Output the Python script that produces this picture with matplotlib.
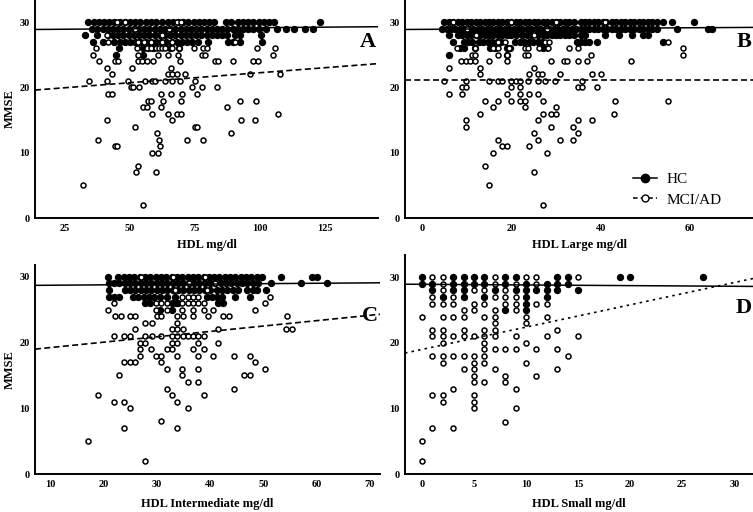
import numpy as np
import matplotlib as mpl
mpl.use("Agg")
import matplotlib.pyplot as plt
from matplotlib.lines import Line2D

# ---- data: {MMSE score: [x values]} ----
A_hc = {
    30: [34, 36, 38, 40, 42, 44, 46, 48, 50, 52, 54, 56, 58, 60, 62.5, 64.5, 66.5, 68.5, 70.5,
         72.5, 74.5, 76.5, 78.5, 80.5, 82.5, 87, 89, 91.5, 93.5, 95.5, 97.5, 99.5, 101.5, 103.5,
         105.5, 123],
    29: [35.5, 37.5, 39.5, 41.5, 43.5, 45.5, 47.5, 49.5, 51.5, 53.5, 55.5, 57.5, 59.5, 61.5, 63.5,
         65.5, 67.5, 69.5, 71.5, 73.5, 75.5, 77.5, 79.5, 81.5, 83.5, 85.5, 87.5, 89.5, 91.5, 93.5,
         95.5, 97.5, 99.5, 102.5, 106.5, 110, 113, 117.5, 120.5],
    28: [32.7, 37.5, 41.5, 43.5, 45.5, 47.5, 49.5, 51.5, 53.5, 55.5, 57.5, 59.5, 61.5, 63.5, 65.5,
         67.5, 69.5, 71.5, 73.5, 75.5, 77.5, 79.5, 81.5, 83.5, 85.5, 87.5, 90.5, 92.5, 100.4],
    27: [35.8, 39.6, 44, 46, 48, 50, 52, 54, 56, 58, 60, 62, 64, 66, 68, 70, 72, 74, 76, 80,
         87.7, 89.5, 92.3, 100.8],
    26: [45.8, 55, 57, 59, 65.4, 69],
    25: [44.6, 55],
}
A_mci = {
    30: [45, 48, 68, 69.5],
    29: [52, 65],
    28: [41.2, 62.5],
    27: [41.5, 53, 55.5, 58, 62.5, 66, 90.5],
    26: [36.9, 52.6, 56.5, 58, 60, 61, 62.5, 63.6, 66.3, 68.8, 74.6, 78, 79.5, 98.7, 105.7],
    25: [35.6, 53.2, 60.9, 64.7, 68.6, 77.6, 78.8, 105],
    24: [37.9, 44.2, 45.5, 53.2, 54.5, 56.4, 58.7, 69.2, 82.7, 84, 89.7, 97.4, 99.4],
    23: [41.3, 50.6, 65.6],
    22: [42.9, 64.7, 66, 67.9, 71.2, 96.2, 107.7],
    21: [34.4, 41.3, 49.4, 55.8, 58.3, 59.6, 63.5, 66, 69.2, 75],
    20: [50.3, 51, 53.6, 73.7, 77.6, 83.6],
    19: [41.7, 43.1, 61.9, 65.6, 70.1, 75.9],
    18: [56.8, 58.1, 62.8, 69.6, 92.3, 98.5],
    17: [55.1, 56.4, 61.9, 87.4],
    16: [58.3, 64.5, 68.2, 69.6, 107],
    15: [41, 66, 92.6, 98.1],
    14: [51.9, 75, 75.6],
    13: [60.5, 88.8],
    12: [37.8, 61.3, 71.8, 78],
    11: [44.4, 45.1, 61.5],
    10: [58.6, 60.6],
    8: [53.2],
    7: [52.2, 59.9],
    5: [32.1],
    2: [54.9],
}

B_hc = {
    30: [5, 6, 7, 8, 9, 10, 11, 12, 13, 14, 15, 16, 17, 18, 19, 20, 21, 22, 23, 24, 25, 26, 27,
         28, 29, 30, 31, 32, 33, 34, 35.5, 36.5, 37.5, 38.5, 39.5, 40.5, 41.3, 42.5, 43.5, 44.5,
         45.5, 46.5, 47.5, 48.5, 49.5, 50.5, 51.5, 52.5, 54, 56, 61],
    29: [4.5, 5.5, 6.5, 7.5, 8.5, 9.5, 10.5, 11.5, 12.5, 13.5, 14.5, 15.5, 16.5, 17.5, 18.5, 19.5,
         20.5, 21.5, 22.5, 23.5, 24.5, 25.5, 26.5, 27.5, 28.5, 29.5, 30.5, 31.5, 32.5, 33.5, 34.5,
         35.5, 36.5, 37.5, 38.5, 39.5, 40.5, 41.5, 42.5, 43.5, 44.5, 45.5, 46.5, 47.5, 48.5, 49.5,
         50.5, 51.5, 52.5, 57, 64, 65],
    28: [6, 8, 9, 10, 11, 12, 13, 14, 15, 16, 17, 18, 19, 20, 21, 22.5, 23.5, 24.5, 26, 27, 28,
         29, 30, 31, 32, 33, 34, 35.5, 36.5, 41, 44, 47, 49.5, 50.5],
    27: [7, 9.3, 10.3, 11.2, 12.7, 13.7, 14.7, 15.7, 16.7, 17.7, 20.9, 21.9, 22.9, 23.9, 24.9,
         25.9, 26.8, 34.6, 35.6, 36.5, 37.3, 39.1, 54],
    26: [8.6, 9.3, 11.9, 15.3, 16.4, 19, 19.7, 27.2],
    25: [6, 19],
}
B_mci = {
    30: [7, 20, 30, 41],
    29: [10, 28],
    28: [12, 25],
    27: [17, 18.5, 27.5, 28.5, 55],
    26: [7.8, 11.9, 16, 17.1, 19.4, 23.1, 23.8, 26.1, 27.9, 28.3, 33, 35, 58.5],
    25: [11.2, 11.9, 17.1, 19, 23.1, 23.8, 37.9, 58.5],
    24: [8.8, 9.8, 10.8, 11.9, 15.1, 19, 28.9, 31.9, 32.4, 35, 36.9, 46.9],
    23: [6.1, 13, 25],
    22: [13, 24, 25.9, 26.8, 30.9, 38, 40.1],
    21: [5, 9.8, 15.1, 17, 17.9, 20, 21, 22, 23.7, 25.9, 27.6, 29.8, 35.9],
    20: [8.9, 9.8, 20, 22, 34.9, 35.9, 39.1],
    19: [6.1, 8.9, 19, 22, 24, 25.9],
    18: [14, 17, 20, 22, 23, 27, 43.1, 55],
    17: [16, 23, 30],
    16: [13, 27, 28.9, 30, 42.9],
    15: [9.9, 25.9, 35, 38],
    14: [9.9, 28.9, 33.9],
    13: [25, 35],
    12: [17, 25.9, 30.9, 33.9],
    11: [17.9, 19, 24],
    10: [16, 27.9],
    8: [14],
    7: [25],
    5: [15.1],
    2: [27],
}

C_hc = {
    30: [20.9, 22.8, 23.8, 24.8, 25.8, 26.8, 27.8, 28.8, 29.8, 30.8, 31.8, 32.8, 33.8, 34.8, 35.8,
         36.8, 37.8, 38.8, 39.8, 40.8, 41.8, 42.8, 43.8, 44.8, 45.8, 46.8, 47.8, 48.8, 49.8, 53.4,
         59.1, 60],
    29: [21, 22, 23, 24, 25, 26, 27, 28, 29, 30, 31, 32, 33, 34, 35, 36, 37, 38, 39, 40, 41, 42,
         43, 44, 45, 46, 47, 48, 49, 51.5, 57, 62],
    28: [21, 24, 25, 26, 27, 28, 29, 30, 31, 32, 33, 34, 35, 36, 37, 38, 39, 40, 41.3, 42.3, 43.3,
         44.3, 45.3, 47, 48, 48.8, 50.5],
    27: [21, 22, 23, 25.6, 26.6, 27.6, 28.6, 29.6, 30.6, 32, 33.4, 39.4, 40.4, 41.4, 42.2, 44.7,
         47.5],
    26: [27.8, 28.8, 32.8, 33.6, 34.1, 41.6, 42.5],
    25: [30.6, 32.8],
}
C_mci = {
    30: [27, 33, 39],
    29: [36, 41],
    28: [33.5, 39.5],
    27: [34.7, 35.8, 36.9, 37.8, 51.3],
    26: [22.1, 29.9, 30.9, 31.9, 34.7, 35.8, 36.9, 37.8, 38.9, 50.3],
    25: [20.9, 29.9, 31.9, 34.7, 36.8, 38.8, 40.6, 48.4],
    24: [22.2, 23.4, 25, 25.9, 30, 30.9, 33.8, 34.9, 36.8, 39.7, 42.5, 43.6, 54.4],
    23: [27.9, 29.1, 33.8],
    22: [25.9, 32.8, 33.8, 34.9, 41.6, 54.2, 55.4],
    21: [22.1, 23.8, 25, 27.9, 29.1, 30.9, 32.8, 33.8, 34.9, 35.8, 36.8, 37.8, 38.8],
    20: [26.9, 27.9, 32.8, 33.8, 37.8, 41.6],
    19: [26.9, 28.9, 31.9, 32.8, 36.8, 38.8],
    18: [26.9, 29.8, 30.9, 33.8, 37.8, 40.6, 44.6, 47.5],
    17: [23.9, 25, 25.9, 30.9, 48.4],
    16: [31.9, 34.7, 37.8, 50.3],
    15: [22.9, 34.7, 46.4, 47.5],
    14: [35.8, 37.8],
    13: [31.9, 44.6],
    12: [19.1, 32.8, 38.8],
    11: [22.1, 23.9, 33.8],
    10: [25, 35.8],
    8: [30.9],
    7: [23.9, 33.8],
    5: [17.2],
    2: [27.9],
}

D_hc = {
    30: [0, 3, 4, 5, 6, 8, 9, 13, 14, 19, 20, 27],
    29: [0, 1, 3, 4, 5, 6, 8, 10, 12, 13, 14],
    28: [1, 3, 4, 7, 9, 10, 11, 12, 13, 15],
    27: [2, 4, 6, 10, 12],
    26: [10],
    25: [8, 10],
}
D_mci = {
    30: [1, 2, 7, 10, 11, 15],
    29: [2, 7, 9, 11],
    28: [2, 5, 6, 8],
    27: [1, 3, 7, 8, 9],
    26: [1, 2, 3, 5, 6, 8, 9, 11, 12],
    25: [4, 5, 7, 9],
    24: [0, 2, 3, 4, 6, 7, 10, 12],
    23: [7, 10],
    22: [1, 2, 4, 6, 7, 13],
    21: [1, 2, 3, 4, 5, 6, 7, 9, 12, 15],
    20: [2, 6, 10],
    19: [6, 7, 8, 9, 11, 13],
    18: [1, 2, 3, 4, 5, 6, 14],
    17: [2, 5, 6, 10],
    16: [4, 5, 7, 13],
    15: [5, 8, 11],
    14: [5, 6, 8],
    13: [3, 9],
    12: [1, 2, 5],
    11: [2, 5],
    10: [5, 9],
    8: [8],
    7: [1, 3],
    5: [0],
    2: [0],
}

# regression lines: (intercept, slope)
A_fit_hc, A_fit_mci = (28.84, 0.0032), (19.19, 0.0307)
B_fit_hc, B_fit_mci = (28.9, 0.0041), (21.1, 0.0)
C_fit_hc, C_fit_mci = (28.66, 0.006), (18.41, 0.082)
D_fit_hc, D_fit_mci = (28.93, -0.01), (19.0, 0.34)

x_labels = ["HDL mg/dl", "HDL Large mg/dl", "HDL Intermediate mg/dl", "HDL Small mg/dl"]
x_ticks = [[25, 50, 75, 100, 125], [0, 20, 40, 60], [10, 20, 30, 40, 50, 60, 70],
           [0, 5, 10, 15, 20, 25, 30]]
letters = ["A", "B", "C", "D"]

mpl.rcParams['font.family'] = 'serif'
mpl.rcParams['font.serif'] = ['Liberation Serif', 'DejaVu Serif']
mpl.rcParams['font.weight'] = 'bold'


def flatten(rows):
    xs, ys = [], []
    for y, row in rows.items():
        xs += list(row)
        ys += [y] * len(row)
    return np.array(xs, float), np.array(ys, float)


fig = plt.figure(figsize=(7.53, 5.12), dpi=100)

W, H = 753.0, 512.0
panels = [
    # left, right, bottom, top (pixels), xlim, ylim top
    (35, 378, 218, 0, (13.46, 145.4), 33.4, A_hc, A_mci, A_fit_hc, A_fit_mci, 'dash', 26.9),
    (405, 753, 218, 0, (-3.8, 74.1), 33.4, B_hc, B_mci, B_fit_hc, B_fit_mci, 'dash', 27.0),
    (35, 380, 474, 265, (7.2, 71.9), 31.8, C_hc, C_mci, C_fit_hc, C_fit_mci, 'dash', 24.0),
    (405, 753, 474, 255, (-1.63, 31.8), 33.4, D_hc, D_mci, D_fit_hc, D_fit_mci, 'dot', 25.3),
]

for i, (l, r, b, t, xlim, ytop, hc, mci, fit_hc, fit_mci, mstyle, let_y) in enumerate(panels):
    ax = fig.add_axes([l / W, 1 - b / H, (r - l) / W, (b - t) / H])
    ax.set_xlim(*xlim)
    ax.set_ylim(0, ytop)

    hx, hy = flatten(hc)
    mx, my = flatten(mci)
    ax.scatter(hx, hy, s=20, facecolor='black', edgecolor='black', linewidths=0.8,
               zorder=3, clip_on=False)
    ax.scatter(mx, my, s=13, facecolor='white', edgecolor='black', linewidths=1.1,
               zorder=4, clip_on=False)

    xs = np.array(xlim)
    ax.plot(xs, fit_hc[0] + fit_hc[1] * xs, color='black', lw=1.1, zorder=5)
    if mstyle == 'dash':
        ls = (0, (3.6, 2.0))
    else:
        ls = (0, (1.5, 2.5))
    ax.plot(xs, fit_mci[0] + fit_mci[1] * xs, color='black', lw=1.2, ls=ls, zorder=5)

    for s in ['top', 'right']:
        ax.spines[s].set_visible(False)
    for s in ['left', 'bottom']:
        ax.spines[s].set_linewidth(1.4)
    ax.set_xticks(x_ticks[i])
    ax.set_yticks([0, 10, 20, 30])
    ax.tick_params(length=0, labelsize=7.5, pad=4)

    ax.set_xlabel(x_labels[i], fontsize=9, fontweight='bold')
    ax.xaxis.set_label_coords(0.5, -27.0 / (b - t) if i < 2 else -30.0 / (b - t))
    ax.xaxis.label.set_va('center')
    if i % 2 == 0:
        ax.set_ylabel("MMSE", fontsize=9, fontweight='bold')
        ax.yaxis.set_label_coords(-25.0 / (r - l), 0.5)
        ax.yaxis.label.set_va('center')

    ax.text(0.995, let_y, letters[i], transform=ax.get_yaxis_transform(),
            ha='right', va='center', fontsize=16, fontweight='bold')

    if i == 1:
        handles = [
            Line2D([], [], color='black', lw=1.1, marker='o', markersize=6,
                   markerfacecolor='black', markeredgecolor='black'),
            Line2D([], [], color='black', lw=1.1, ls=(0, (3, 2)), marker='o', markersize=5,
                   markerfacecolor='white', markeredgecolor='black', markeredgewidth=1.0),
        ]
        ax.legend(handles, ["HC", "MCI/AD"], loc='center left', bbox_to_anchor=(0.655, 0.13),
                  frameon=False, handlelength=1.6, handletextpad=0.6, labelspacing=0.45,
                  borderaxespad=0, borderpad=0,
                  prop={'family': 'serif', 'weight': 'normal', 'size': 11})

fig.savefig("out.png", dpi=100)
